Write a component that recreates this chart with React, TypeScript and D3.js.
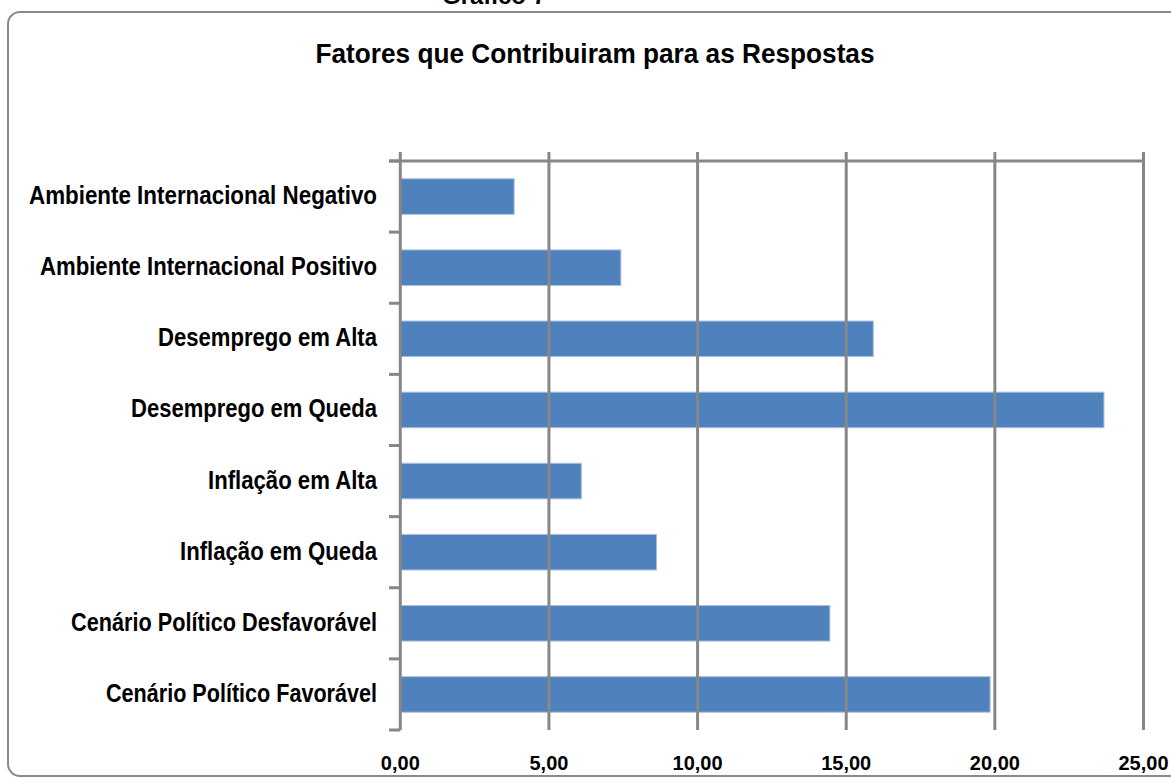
import React from "react";
import * as d3 from "d3";

const categories = [
  "Ambiente Internacional Negativo",
  "Ambiente Internacional Positivo",
  "Desemprego em Alta",
  "Desemprego em Queda",
  "Inflação em Alta",
  "Inflação em Queda",
  "Cenário Político Desfavorável",
  "Cenário Político Favorável",
];
const values = [3.83, 7.42, 15.91, 23.67, 6.09, 8.62, 14.45, 19.84];
const labelWidths = [348, 337, 219, 246, 169, 197, 306, 271];
const xTicks = [0, 5, 10, 15, 20, 25];
const titleText = "Fatores que Contribuiram para as Respostas";
const headerText = "Gráfico 7";

const W = 1171;
const H = 778;
const FONT = "'Liberation Sans', Arial, sans-serif";
const GRID = "#878787";

export default function App() {
  const left = 400.3;
  const right = 1143.5;
  const top = 161;
  const bottom = 730;
  const x = d3.scaleLinear().domain([0, 25]).range([left, right]);
  const y = d3
    .scaleBand<string>()
    .domain(categories)
    .range([top, bottom])
    .paddingInner(0.5)
    .paddingOuter(0.25);
  const step = y.step();
  const boundaries = d3.range(categories.length + 1).map((i) => top + i * step);
  const fmt = (v: number) => v.toFixed(2).replace(".", ",");

  return (
    <svg
      width={W}
      height={H}
      style={{ position: "absolute", left: 0, top: 0, background: "#fff" }}
    >
      <rect x={0} y={0} width={W} height={H} fill="#fff" />
      <text
        x={494}
        y={4}
        textAnchor="middle"
        fontFamily={FONT}
        fontWeight="bold"
        fontSize={24}
        fill="#000"
      >
        {headerText}
      </text>
      <rect
        x={8}
        y={12}
        width={1200}
        height={764}
        rx={12}
        ry={12}
        fill="none"
        stroke="#8a8a8a"
        strokeWidth={2}
      />
      <text
        x={595}
        y={63}
        textAnchor="middle"
        fontFamily={FONT}
        fontWeight="bold"
        fontSize={28}
        textLength={559}
        lengthAdjust="spacingAndGlyphs"
        fill="#000"
      >
        {titleText}
      </text>

      {/* bars */}
      {categories.map((c, i) => (
        <rect
          key={c}
          x={x(0)}
          y={y(c)!}
          width={x(values[i]) - x(0)}
          height={y.bandwidth()}
          fill="#4F81BD"
          stroke="#a9c1e0"
          strokeWidth={1}
        />
      ))}

      {/* vertical gridlines */}
      {xTicks.map((t) => (
        <line
          key={t}
          x1={x(t)}
          x2={x(t)}
          y1={152}
          y2={bottom}
          stroke={GRID}
          strokeWidth={3}
        />
      ))}
      {/* top horizontal line */}
      <line x1={389} x2={right} y1={top} y2={top} stroke={GRID} strokeWidth={3} />
      {/* left ticks */}
      {boundaries.map((b, i) => (
        <line key={i} x1={389} x2={left} y1={b} y2={b} stroke={GRID} strokeWidth={3} />
      ))}

      {/* category labels */}
      {categories.map((c, i) => (
        <text
          key={c}
          x={377}
          y={y(c)! + y.bandwidth() / 2 + 7.5}
          textAnchor="end"
          fontFamily={FONT}
          fontWeight="bold"
          fontSize={25.5}
          textLength={labelWidths[i]}
          lengthAdjust="spacingAndGlyphs"
          fill="#000"
        >
          {c}
        </text>
      ))}

      {/* x tick labels */}
      {xTicks.map((t) => (
        <text
          key={t}
          x={x(t)}
          y={770}
          textAnchor="middle"
          fontFamily={FONT}
          fontWeight="bold"
          fontSize={20}
          fill="#000"
        >
          {fmt(t)}
        </text>
      ))}
    </svg>
  );
}
